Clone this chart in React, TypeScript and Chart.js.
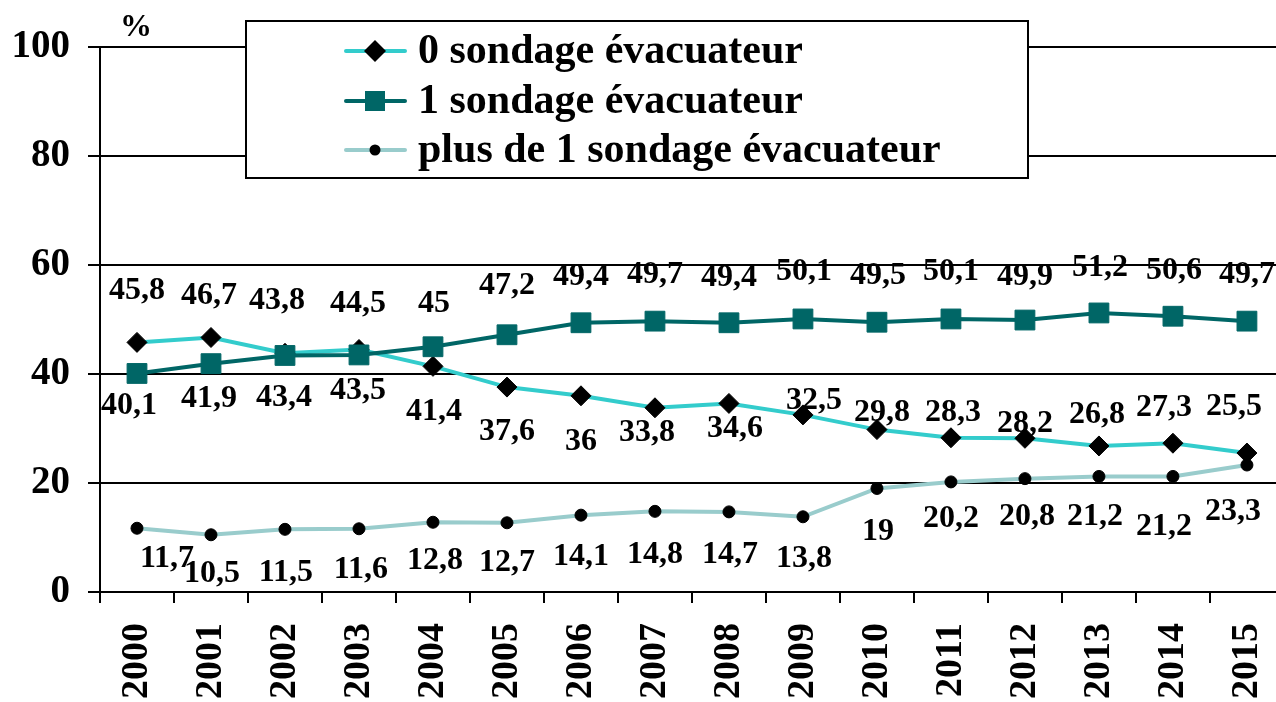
import React, { useEffect, useRef } from 'react';
import { Chart, registerables } from 'chart.js';

Chart.register(...registerables);

// ---- data ----
const YEARS = ['2000', '2001', '2002', '2003', '2004', '2005', '2006', '2007', '2008', '2009', '2010', '2011', '2012', '2013', '2014', '2015'];
const ZERO_SONDAGE = [45.8, 46.7, 43.8, 44.5, 41.4, 37.6, 36, 33.8, 34.6, 32.5, 29.8, 28.3, 28.2, 26.8, 27.3, 25.5];
const ONE_SONDAGE = [40.1, 41.9, 43.4, 43.5, 45, 47.2, 49.4, 49.7, 49.4, 50.1, 49.5, 50.1, 49.9, 51.2, 50.6, 49.7];
const MORE_SONDAGE = [11.7, 10.5, 11.5, 11.6, 12.8, 12.7, 14.1, 14.8, 14.7, 13.8, 19, 20.2, 20.8, 21.2, 21.2, 23.3];
const SERIES_NAMES = ['0 sondage évacuateur', '1 sondage évacuateur', 'plus de 1 sondage évacuateur'];
const Y_MIN = 0;
const Y_MAX = 100;
const Y_STEP = 20;
const UNIT = '%';

// ---- label placement (offsets from each point, in px) ----
const LABEL_DX_ZERO = [0, -2, -8, -1, 1, 0, 0, -8, 6, 11, 5, 2, 0, -2, -9, -13];
const LABEL_DY_ZERO = [-52, -42, -53, -46, 45, 45, 46, 25, 25, -14, -17, -25, -15, -31, -35, -46];
const LABEL_DX_ONE = [-8, -2, -1, -1, 1, 0, 0, 0, 0, 1, 1, 0, 0, 1, 1, 0];
const LABEL_DY_ONE = [32, 35, 42, 36, -43, -49, -46, -46, -45, -47, -46, -47, -43, -45, -45, -46];
const LABEL_DX_MORE = [30, 1, 1, 2, 2, 0, 0, 0, 1, 1, 1, 0, 2, -4, -9, -14];
const LABEL_DY_MORE = [30, 39, 43, 41, 38, 40, 42, 43, 43, 42, 43, 37, 38, 40, 50, 47];

const FONT = "'Liberation Serif', 'Times New Roman', Times, serif";
const COLORS = ['#33CCCC', '#006666', '#99CCCC'];

const fmt = (v: number) => String(v).replace('.', ',');

const labelsPlugin = {
  id: 'valueLabels',
  afterDatasetsDraw(chart: any) {
    const ctx = chart.ctx;
    const offsets = [
      [LABEL_DX_ZERO, LABEL_DY_ZERO],
      [LABEL_DX_ONE, LABEL_DY_ONE],
      [LABEL_DX_MORE, LABEL_DY_MORE],
    ];
    ctx.save();
    ctx.font = `bold 32px ${FONT}`;
    ctx.fillStyle = '#000';
    ctx.textAlign = 'center';
    ctx.textBaseline = 'middle';
    chart.data.datasets.forEach((ds: any, i: number) => {
      const meta = chart.getDatasetMeta(i);
      meta.data.forEach((pt: any, j: number) => {
        const [dx, dy] = offsets[i];
        ctx.fillText(fmt(ds.data[j]), pt.x + dx[j], pt.y + dy[j]);
      });
    });
    ctx.restore();
  },
};

function drawMarker(ctx: CanvasRenderingContext2D, kind: number, x: number, y: number) {
  ctx.beginPath();
  if (kind === 0) {
    const r = 11;
    ctx.moveTo(x - r, y);
    ctx.lineTo(x, y - r);
    ctx.lineTo(x + r, y);
    ctx.lineTo(x, y + r);
    ctx.closePath();
    ctx.fillStyle = '#000';
    ctx.fill();
  } else if (kind === 1) {
    const h = 10;
    ctx.rect(x - h, y - h, 2 * h, 2 * h);
    ctx.fillStyle = COLORS[1];
    ctx.fill();
  } else {
    ctx.arc(x, y, 5.5, 0, Math.PI * 2);
    ctx.fillStyle = '#000';
    ctx.fill();
  }
}

const legendPlugin = {
  id: 'boxLegend',
  afterDraw(chart: any) {
    const ctx = chart.ctx;
    ctx.save();
    // unit label
    ctx.font = `bold 32px ${FONT}`;
    ctx.fillStyle = '#000';
    ctx.textAlign = 'center';
    ctx.textBaseline = 'middle';
    ctx.fillText(UNIT, 136, 28);

    // legend box
    const bx = 246, by = 21, bw = 782, bh = 157;
    ctx.fillStyle = '#fff';
    ctx.fillRect(bx, by, bw, bh);
    ctx.strokeStyle = '#000';
    ctx.lineWidth = 2;
    ctx.strokeRect(bx, by, bw, bh);

    const rows = [51, 101, 150];
    SERIES_NAMES.forEach((name, i) => {
      const y = rows[i];
      ctx.strokeStyle = COLORS[i];
      ctx.lineWidth = 4;
      ctx.lineCap = 'round';
      ctx.beginPath();
      ctx.moveTo(346, y);
      ctx.lineTo(405, y);
      ctx.stroke();
      drawMarker(ctx, i, 375, y);
      ctx.font = `bold 42px ${FONT}`;
      ctx.fillStyle = '#000';
      ctx.textAlign = 'left';
      ctx.textBaseline = 'middle';
      ctx.fillText(name, 418, y + 1);
    });
    ctx.restore();
  },
};

export default function App() {
  const ref = useRef<HTMLCanvasElement | null>(null);

  useEffect(() => {
    if (!ref.current) return;
    const chart = new Chart(ref.current, {
      type: 'line',
      data: {
        labels: YEARS,
        datasets: [
          {
            label: SERIES_NAMES[0],
            data: ZERO_SONDAGE,
            borderColor: COLORS[0],
            borderWidth: 4,
            pointStyle: 'rectRot',
            pointRadius: 10,
            pointBackgroundColor: '#000',
            pointBorderColor: '#000',
            pointBorderWidth: 1,
            tension: 0,
            order: 3,
          },
          {
            label: SERIES_NAMES[1],
            data: ONE_SONDAGE,
            borderColor: COLORS[1],
            borderWidth: 4,
            pointStyle: 'rect',
            pointRadius: 14,
            pointBackgroundColor: COLORS[1],
            pointBorderColor: COLORS[1],
            pointBorderWidth: 1,
            tension: 0,
            order: 2,
          },
          {
            label: SERIES_NAMES[2],
            data: MORE_SONDAGE,
            borderColor: COLORS[2],
            borderWidth: 4,
            pointStyle: 'circle',
            pointRadius: 6,
            pointBackgroundColor: '#000',
            pointBorderColor: '#000',
            pointBorderWidth: 1,
            tension: 0,
            order: 1,
          },
        ],
      },
      options: {
        responsive: false,
        animation: false,
        devicePixelRatio: 1,
        layout: { padding: { top: 47, right: 0, left: 0, bottom: 0 } },
        plugins: {
          legend: { display: false },
          tooltip: { enabled: false },
        },
        scales: {
          x: {
            type: 'category',
            offset: true,
            afterFit: (s: any) => {
              s.height = 110;
            },
            grid: {
              offset: true,
              drawOnChartArea: false,
              drawTicks: true,
              tickLength: 11,
              color: '#000',
              lineWidth: 2,
            },
            border: { display: true, color: '#000', width: 2 },
            ticks: {
              minRotation: 90,
              maxRotation: 90,
              autoSkip: false,
              padding: 20,
              color: '#000',
              font: { family: FONT, size: 38, weight: 'bold' },
            },
          },
          y: {
            min: Y_MIN,
            max: Y_MAX,
            afterFit: (s: any) => {
              s.width = 100;
            },
            grid: {
              color: '#000',
              lineWidth: 2,
              tickLength: 12,
            },
            border: { display: true, color: '#000', width: 2 },
            ticks: {
              stepSize: Y_STEP,
              padding: 18,
              color: '#000',
              font: { family: FONT, size: 39, weight: 'bold' },
            },
          },
        },
      },
      plugins: [labelsPlugin, legendPlugin],
    } as any);
    return () => chart.destroy();
  }, []);

  return (
    <div style={{ position: 'absolute', left: 0, top: 0, width: 1276, height: 702, overflow: 'hidden', background: '#fff' }}>
      <canvas ref={ref} width={1313} height={702} style={{ width: 1313, height: 702, display: 'block' }} />
    </div>
  );
}
